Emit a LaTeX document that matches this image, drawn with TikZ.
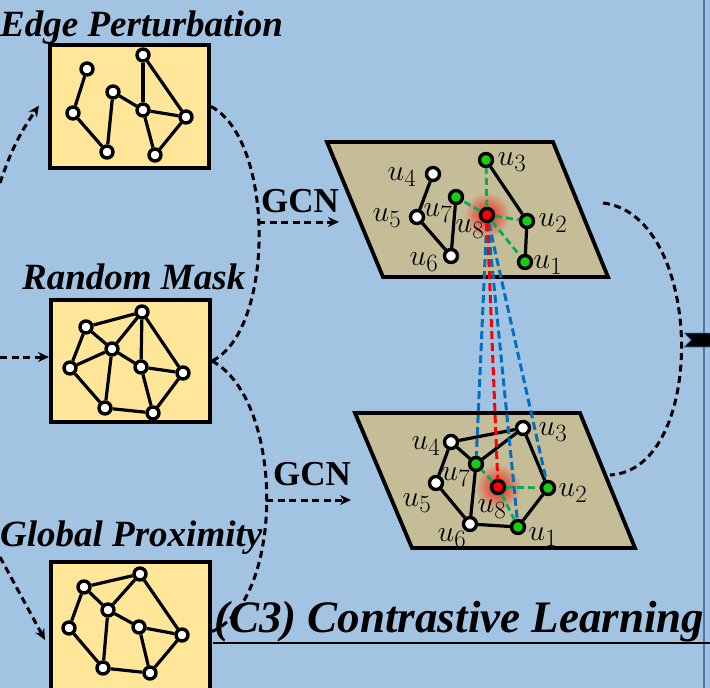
\documentclass[tikz,border=0pt]{standalone}
\usepackage{fontspec}
\setmainfont{Liberation Serif}
\usetikzlibrary{arrows,arrows.meta,positioning,shapes}

\definecolor{bgblue}{RGB}{162,196,226}
\definecolor{boxfill}{RGB}{255,230,153}
\definecolor{planefill}{RGB}{196,189,151}
\definecolor{dotgreen}{RGB}{20,205,20}
\definecolor{lgreen}{RGB}{0,176,80}
\definecolor{lblue}{RGB}{0,112,192}
\definecolor{rimblue}{RGB}{79,120,170}

\begin{document}
\begin{tikzpicture}[x=1pt, y=-1pt, >={Stealth[length=11pt, width=10pt]},
    every node/.style={inner sep=0pt},
    box/.style={draw, line width=4pt, fill=boxfill, minimum width=159pt, minimum height=123pt},
    vtx/.style={circle, draw, line width=3.4pt, fill=white, minimum size=12pt},
    pvtx/.style={circle, draw, line width=3.4pt, fill=white, minimum size=13pt},
    gvtx/.style={pvtx, fill=dotgreen},
    rvtx/.style={pvtx, fill=red},
    gedge/.style={draw, line width=3.2pt},
    gdash/.style={draw=lgreen, line width=2.8pt, dash pattern=on 7pt off 4pt},
    bdash/.style={draw=lblue, line width=3pt, dash pattern=on 8pt off 4pt},
    rdash/.style={draw=red, line width=3pt, dash pattern=on 8pt off 4pt},
    kdash/.style={draw, line width=3pt, dash pattern=on 7pt off 4.5pt},
    plane/.style={draw, line width=3.8pt, fill=planefill, line join=miter},
    ttl/.style={font=\fontsize{37}{37}\selectfont\bfseries\itshape, anchor=base west},
    gcn/.style={font=\fontsize{35}{35}\selectfont\bfseries, anchor=base west},
    lbl/.style={font=\fontsize{24.88}{25}\selectfont, scale=1.2}
    ]
\clip (0,0) rectangle (710,688);
\fill[bgblue] (0,0) rectangle (710,688);
\draw[rimblue, line width=1.5pt] (704,0) -- (704,688);

% augmented views
\node[box] (box1) at (129.5,106.5) {};
\node[box, minimum height=122pt] (box2) at (130.5,361) {};
\node[box, minimum height=140pt] (box3) at (130.5,631.5) {};

\node[ttl] (t1) at (0,36) {Edge Perturbation};
\node[ttl] (t2) at (22,289) {Random Mask};
\node[ttl] (t3) at (0,546) {Global Proximity};

% Edge Perturbation
\node[vtx] (a1) at (87,69) {};
\node[vtx] (a2) at (143,55) {};
\node[vtx] (a3) at (113,92) {};
\node[vtx] (a4) at (73,113) {};
\node[vtx] (a5) at (143,110) {};
\node[vtx] (a6) at (186,117) {};
\node[vtx] (a7) at (107,152) {};
\node[vtx] (a8) at (155,155) {};
\path[gedge]
(a1) edge (a4)
(a4) edge (a7)
(a7) edge (a3)
(a3) edge (a5)
(a2) edge (a5)
     edge (a6)
(a5) edge (a6)
     edge (a8)
(a8) edge (a6)
;

% Random Mask
\node[vtx] (b1) at (86,327) {};
\node[vtx] (b2) at (142,312) {};
\node[vtx] (b3) at (112,349) {};
\node[vtx] (b4) at (70,368) {};
\node[vtx] (b5) at (141,367) {};
\node[vtx] (b6) at (183,373) {};
\node[vtx] (b7) at (105,408) {};
\node[vtx] (b8) at (153,413) {};
\path[gedge]
(b1) edge (b2)
     edge (b4)
     edge (b3)
(b2) edge (b3)
     edge (b5)
     edge (b6)
(b3) edge (b4)
     edge (b5)
     edge (b7)
(b4) edge (b7)
(b5) edge (b6)
     edge (b8)
(b7) edge (b8)
(b8) edge (b6)
;

% Global Proximity
\node[vtx] (c1) at (84,587) {};
\node[vtx] (c2) at (140,574) {};
\node[vtx] (c3) at (108,610) {};
\node[vtx] (c4) at (69,628) {};
\node[vtx] (c5) at (139,627) {};
\node[vtx] (c6) at (182,635) {};
\node[vtx] (c7) at (103,668) {};
\node[vtx] (c8) at (150,673) {};
\path[gedge]
(c1) edge (c2)
     edge (c4)
     edge (c3)
(c2) edge (c3)
     edge (c6)
(c3) edge (c5)
     edge (c7)
(c4) edge (c7)
(c5) edge (c6)
     edge (c8)
(c7) edge (c8)
(c8) edge (c6)
;

% incoming arrows
\coordinate (in1) at (0,183);
\coordinate (in2) at (0,357);
\coordinate (in3) at (0,557);
\draw[kdash, ->] (in1) to[bend left=8] ([xshift=-9pt, yshift=1pt]box1.west);
\draw[kdash, ->] (in2) -- (in2 -| box2.west);
\draw[kdash, ->] (in3) -- ([xshift=-4pt]box3.west |- 0,640);

% merge into GCN
\coordinate (m1) at (258,222);
\coordinate (m2) at (266,500);
\coordinate (g1) at (339,222);
\coordinate (g2) at (351,500);
\draw[kdash] (box1.east) .. controls (275,140) and (275,330) .. (box2.east);
\draw[kdash] (box2.east) .. controls (285,400) and (285,600) .. (box3.east);
\draw[kdash, ->] (m1) -- (g1);
\draw[kdash, ->] (m2) -- (g2);
\node[gcn] (gcn1) at (261,212) {GCN};
\node[gcn] (gcn2) at (273,485) {GCN};

% embedding planes
\draw[plane] (327,142) -- (553,142) -- (608,277) -- (383,277) -- cycle;
\draw[plane] (355,413) -- (580,413) -- (635,548) -- (412,548) -- cycle;
\shade[inner color=red!85!planefill, outer color=planefill] (487,215) circle (23pt);
\shade[inner color=red!85!planefill, outer color=planefill] (498,487) circle (23pt);

% view 1
\node[gvtx] (p1u1) at (525,262) {};
\node[gvtx] (p1u2) at (527,221) {};
\node[gvtx] (p1u3) at (486,160) {};
\node[pvtx] (p1u4) at (433,174) {};
\node[pvtx] (p1u5) at (417,217) {};
\node[pvtx] (p1u6) at (451,256) {};
\node[gvtx] (p1u7) at (456,197) {};
\node[rvtx] (p1u8) at (487,215) {};
\path[gedge]
(p1u4) edge (p1u5)
(p1u5) edge (p1u6)
(p1u6) edge (p1u7)
(p1u3) edge (p1u2)
(p1u2) edge (p1u1)
;
\path[gdash]
(p1u8) edge (p1u3)
       edge (p1u7)
       edge (p1u2)
       edge (p1u1)
;

% view 2
\node[gvtx] (p2u1) at (518,527) {};
\node[gvtx] (p2u2) at (548,488) {};
\node[pvtx] (p2u3) at (523,428) {};
\node[pvtx] (p2u4) at (451,442) {};
\node[pvtx] (p2u5) at (436,483) {};
\node[pvtx] (p2u6) at (470,524) {};
\node[gvtx] (p2u7) at (476,464) {};
\node[rvtx] (p2u8) at (498,487) {};
\path[gedge]
(p2u4) edge (p2u3)
       edge (p2u5)
       edge (p2u7)
(p2u7) edge (p2u3)
(p2u3) edge (p2u2)
(p2u2) edge (p2u1)
(p2u1) edge (p2u6)
(p2u6) edge (p2u5)
       edge (p2u7)
;
\path[gdash]
(p2u8) edge (p2u7)
       edge (p2u2)
       edge (p2u1)
;

% positives and negatives across views
\path[bdash]
(p1u8) edge (p2u7)
       edge (p2u1)
       edge (p2u2)
;
\path[rdash] (p1u8) edge (p2u8);

% labels
\node[lbl] (l11) at ([shift={(23,3)}]p1u1) {$u_1$};
\node[lbl] (l12) at ([shift={(26,2)}]p1u2) {$u_2$};
\node[lbl] (l13) at ([shift={(26,2)}]p1u3) {$u_3$};
\node[lbl] (l14) at ([shift={(-31,3)}]p1u4) {$u_4$};
\node[lbl] (l15) at ([shift={(-30,1)}]p1u5) {$u_5$};
\node[lbl] (l16) at ([shift={(-27,6)}]p1u6) {$u_6$};
\node[lbl] (l17) at ([shift={(-18,16)}]p1u7) {$u_7$};
\node[lbl] (l18) at ([shift={(-17,14)}]p1u8) {$u_8$};
\node[lbl] (l21) at ([shift={(25,10)}]p2u1) {$u_1$};
\node[lbl] (l22) at ([shift={(25,5)}]p2u2) {$u_2$};
\node[lbl] (l23) at ([shift={(30,4)}]p2u3) {$u_3$};
\node[lbl] (l24) at ([shift={(-25,4)}]p2u4) {$u_4$};
\node[lbl] (l25) at ([shift={(-19,20)}]p2u5) {$u_5$};
\node[lbl] (l26) at ([shift={(-18,14)}]p2u6) {$u_6$};
\node[lbl] (l27) at ([shift={(-20,13)}]p2u7) {$u_7$};
\node[lbl] (l28) at ([shift={(-6,22)}]p2u8) {$u_8$};

% contrast between views
\coordinate (r1) at (603,203);
\coordinate (r2) at (610,475);
\draw[kdash] (r1) .. controls (705,215) and (708,470) .. (r2);
\fill[black, draw=rimblue, line width=0.8pt] (684,333) -- (712,333) -- (712,347) -- (684,347) -- (691,340) -- cycle;

\node[font=\fontsize{45}{45}\selectfont\bfseries\itshape, anchor=base west] (c3t) at (214,632) {(C3) Contrastive Learning};
\draw[line width=1.5pt] (213,643) -- (710,643);
\end{tikzpicture}
\end{document}
